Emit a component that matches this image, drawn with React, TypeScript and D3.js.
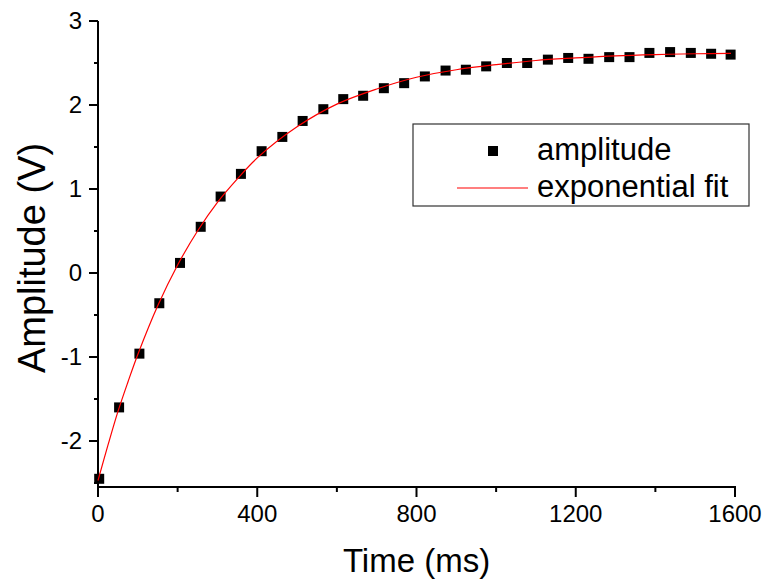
import React from "react";
import * as d3 from "d3";

const timeMs = [3, 53, 104, 154, 206, 258, 308, 359, 411, 463, 514, 566, 616, 666, 718, 769, 821, 873, 924, 975, 1027, 1078, 1130, 1181, 1232, 1284, 1335, 1385, 1437, 1489, 1540, 1589];
const amplitude = [-2.45, -1.6, -0.96, -0.36, 0.12, 0.55, 0.91, 1.18, 1.45, 1.62, 1.81, 1.95, 2.07, 2.11, 2.2, 2.26, 2.34, 2.41, 2.42, 2.46, 2.5, 2.5, 2.54, 2.56, 2.55, 2.57, 2.57, 2.62, 2.63, 2.62, 2.61, 2.6];

const fitTime = [0, 25, 50, 75, 100, 150, 200, 250, 300, 350, 400, 500, 600, 700, 800, 900, 1000, 1100, 1200, 1300, 1400, 1500, 1590];
const fitValue = [-2.47, -2.05, -1.65, -1.3, -0.97, -0.39, 0.095, 0.5, 0.84, 1.12, 1.37, 1.74, 2.01, 2.19, 2.33, 2.42, 2.48, 2.53, 2.56, 2.585, 2.6, 2.61, 2.615];

const xMajorTicks = [0, 400, 800, 1200, 1600];
const xMinorTicks = [200, 600, 1000, 1400];
const yMajorTicks = [-2, -1, 0, 1, 2, 3];
const yMinorTicks = [-2.5, -1.5, -0.5, 0.5, 1.5, 2.5];

const seriesLabels = ["amplitude", "exponential fit"];
const xTitle = "Time (ms)";
const yTitle = "Amplitude (V)";

export default function App() {
  const W = 764, H = 579;
  const left = 98, right = 735, top = 21, bottom = 487;
  const x = d3.scaleLinear().domain([0, 1600]).range([left, right]);
  const y = d3.scaleLinear().domain([3, -2]).range([top, 441]);
  const font = "'Liberation Sans', Arial, sans-serif";
  const line = d3
    .line<number>()
    .x((_, i) => x(fitTime[i]))
    .y((d) => y(d))
    .curve(d3.curveCatmullRom);
  const sq = 10;
  return (
    <svg width={W} height={H} style={{ position: "absolute", left: 0, top: 0 }} fontFamily={font}>
      <rect width={W} height={H} fill="white" />
      <line x1={left} x2={left} y1={top} y2={bottom + 1} stroke="black" strokeWidth={2} />
      <line x1={left - 1} x2={right + 1} y1={bottom} y2={bottom} stroke="black" strokeWidth={2} />
      {yMajorTicks.map((t) => (
        <g key={"ym" + t}>
          <line x1={left - 9} x2={left} y1={y(t)} y2={y(t)} stroke="black" strokeWidth={2} />
          <text x={left - 16} y={y(t)} dy="0.35em" textAnchor="end" fontSize={24}>
            {t}
          </text>
        </g>
      ))}
      {yMinorTicks.map((t) => (
        <line key={"yn" + t} x1={left - 4} x2={left} y1={y(t)} y2={y(t)} stroke="black" strokeWidth={2} />
      ))}
      {xMajorTicks.map((t) => (
        <g key={"xm" + t}>
          <line x1={x(t)} x2={x(t)} y1={bottom} y2={bottom + 10} stroke="black" strokeWidth={2} />
          <text x={x(t)} y={522} textAnchor="middle" fontSize={24}>
            {t}
          </text>
        </g>
      ))}
      {xMinorTicks.map((t) => (
        <line key={"xn" + t} x1={x(t)} x2={x(t)} y1={bottom} y2={bottom + 5} stroke="black" strokeWidth={2} />
      ))}
      <text x={(left + right) / 2} y={572} textAnchor="middle" fontSize={33}>
        {xTitle}
      </text>
      <text
        transform={`translate(45, 258) rotate(-90)`}
        textAnchor="middle"
        fontSize={38}
      >
        {yTitle}
      </text>
      {timeMs.map((t, i) => (
        <rect key={i} x={x(t) - sq / 2} y={y(amplitude[i]) - sq / 2} width={sq} height={sq} fill="black" />
      ))}
      <path d={line(fitValue) || ""} fill="none" stroke="red" strokeWidth={1.2} />
      <rect x={413} y={124} width={336} height={82} fill="white" stroke="#333" strokeWidth={1.2} />
      <rect x={493 - sq / 2} y={151 - sq / 2} width={sq} height={sq} fill="black" />
      <text x={537} y={160} fontSize={31}>
        {seriesLabels[0]}
      </text>
      <line x1={457} x2={528} y1={188} y2={188} stroke="red" strokeWidth={1.2} />
      <text x={537} y={197} fontSize={31}>
        {seriesLabels[1]}
      </text>
    </svg>
  );
}
